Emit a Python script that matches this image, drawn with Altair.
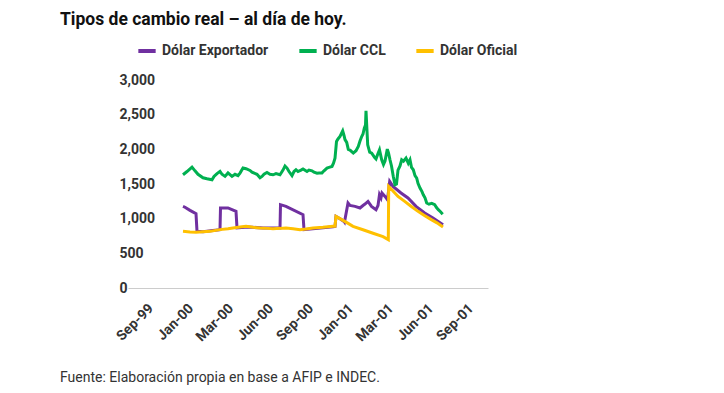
import altair as alt
import pandas as pd

title_text = "Tipos de cambio real – al día de hoy."
footer_text = "Fuente: Elaboración propia en base a AFIP e INDEC."
tick_labels = ["Sep-99", "Jan-00", "Mar-00", "Jun-00", "Sep-00", "Jan-01", "Mar-01", "Jun-01", "Sep-01"]
tick_values = [20, 60, 100, 140, 180, 220, 260, 300, 340]
series_names = ["Dólar Exportador", "Dólar CCL", "Dólar Oficial"]
series_colors = ["#7030A0", "#00B050", "#FFC000"]

# Dólar Exportador
exp_t = [55, 57, 62, 68, 69, 75, 85, 92, 92.5, 100, 108, 109, 120, 135, 152, 152.5, 158, 175, 176,
         190, 205, 207, 208, 212, 216, 216.5, 220, 222, 227, 232, 235, 237, 240, 243.5, 248, 250, 251.5,
         253, 254, 255.5, 257, 259.5, 261.7, 265, 273, 280, 288, 296.7, 305, 315]
exp_v = [1177, 1165, 1120, 1072, 817, 810, 830, 842, 1154, 1154, 1105, 866, 880, 866, 866, 1202, 1177, 1058, 842,
         860, 885, 889, 1033, 1000, 960, 950, 1226, 1190, 1177, 1154, 1190, 1210, 1249, 1177, 1130, 1190, 1345,
         1300, 1370, 1345, 1321, 1273, 1537, 1465, 1370, 1298, 1177, 1082, 1010, 914]

# Dólar CCL
ccl_t = [55, 59, 64, 67, 70, 75, 79, 84, 86, 89, 92, 94, 97, 100, 104, 107, 110, 112, 115, 118, 122, 124,
         129, 132, 134, 136, 139, 142, 145, 148, 152, 155, 157, 159, 161, 164, 166, 168, 170, 173, 175, 179,
         181, 184, 186, 189, 191, 194, 196, 199, 201, 204, 205.5, 207, 208.5, 210, 212, 214.7, 216, 217,
         218.7, 220.3, 222, 225.3, 228, 230.3, 232, 233.7, 235, 236.3, 237.5, 238, 239.7, 241.7, 243.7,
         246.7, 248, 250, 251.5, 253.7, 255.5, 257, 259.3, 260.5, 262, 263.5, 265.3, 267, 268.5, 270, 272,
         273.7, 275.5, 278, 280.3, 282, 283.5, 285.3, 287, 288.7, 290, 292, 294, 295.3, 297, 298.7, 301,
         303.7, 306.7, 308.5, 310.3, 312.5, 314.7]
ccl_v = [1633, 1680, 1744, 1690, 1640, 1590, 1575, 1561, 1610, 1650, 1681, 1640, 1610, 1660, 1610, 1640,
         1620, 1658, 1730, 1720, 1695, 1670, 1640, 1590, 1609, 1640, 1665, 1640, 1633, 1650, 1633, 1700,
         1760, 1730, 1680, 1620, 1680, 1706, 1680, 1700, 1716, 1680, 1700, 1690, 1670, 1655, 1660, 1660,
         1690, 1730, 1740, 1753, 1800, 1873, 2113, 2150, 2185, 2266, 2200, 2140, 2100, 2000, 1990, 1946,
         1980, 2041, 2120, 2185, 2220, 2305, 2350, 2554, 2065, 1960, 1946, 1880, 1860, 1940, 1993, 1850,
         1780, 1830, 2003, 1950, 1849, 1760, 1609, 1489, 1500, 1700, 1760, 1849, 1830, 1873, 1800, 1849,
         1740, 1706, 1620, 1586, 1510, 1442, 1390, 1345, 1300, 1226, 1210, 1220, 1201, 1160, 1130, 1100,
         1065]

# Dólar Oficial
of_t = [55, 62, 68, 75, 82, 92, 100, 105, 112, 118, 125, 132, 140, 145, 152, 158, 165, 172, 178, 185,
        195, 200, 205, 207, 208, 212, 218, 225, 235, 245, 255, 260.3, 260.7, 265, 270, 276.7, 283, 290,
        296, 303.3, 309, 315]
of_v = [817, 808, 803, 810, 817, 842, 855, 866, 880, 889, 875, 866, 860, 856, 860, 866, 855, 842, 850, 866,
        875, 885, 889, 889, 1033, 1000, 950, 890, 840, 790, 740, 698, 1465, 1400, 1320, 1249, 1180, 1105,
        1050, 986, 940, 880]

rows = []
for name, ts, vs in zip(series_names, [exp_t, ccl_t, of_t], [exp_v, ccl_v, of_v]):
    for t, v in zip(ts, vs):
        rows.append({"t": t, "v": v, "serie": name})
df = pd.DataFrame(rows)

label_array = "[" + ",".join("'" + s + "'" for s in tick_labels) + "]"
label_expr = label_array + "[round((datum.value - 20) / 40)]"

color = alt.Color(
    "serie:N",
    sort=series_names,
    scale=alt.Scale(domain=series_names, range=series_colors),
    legend=alt.Legend(
        orient="none", legendX=8, legendY=-40, direction="horizontal", title=None,
        symbolType="stroke", symbolStrokeWidth=4, symbolSize=300, columnPadding=22,
        labelFont="Roboto", labelFontWeight="bold", labelFontSize=14, labelColor="#333333",
        labelOffset=4, symbolOpacity=1,
    ),
)

lines = alt.Chart(df).mark_line(strokeWidth=3).encode(
    x=alt.X("t:Q", scale=alt.Scale(domain=[0, 360], nice=False), title=None,
            axis=alt.Axis(values=tick_values, labelExpr=label_expr, labelAngle=-45, labelAlign="right",
                          labelBaseline="top", labelPadding=13, labelOffset=-2, labelOverlap=False,
                          ticks=False, grid=False,
                          domainColor="#cccccc", domainWidth=1, labelFont="Roboto", labelFontWeight="bold",
                          labelFontSize=14, labelColor="#333333")),
    y=alt.Y("v:Q", scale=alt.Scale(domain=[0, 3000], nice=False), title=None,
            axis=alt.Axis(values=[0, 500, 1000, 1500, 2000, 2500, 3000], format=",.0f", labelAlign="left",
                          labelPadding=9, ticks=False, grid=False, domain=False, labelFont="Roboto",
                          labelFontWeight="bold", labelFontSize=14, labelColor="#333333")),
    color=color,
    order=alt.Order("t:Q"),
)

title = alt.Chart(pd.DataFrame({"txt": [title_text]})).mark_text(
    align="left", baseline="top", font="Roboto", fontWeight="bold", fontSize=17.5, color="#111111"
).encode(text="txt:N", x=alt.value(-68), y=alt.value(-69))

footer = alt.Chart(pd.DataFrame({"txt": [footer_text]})).mark_text(
    align="left", baseline="alphabetic", font="Roboto", fontSize=14, color="#333333"
).encode(text="txt:N", x=alt.value(-68), y=alt.value(302))

chart = alt.layer(lines, title, footer).properties(
    width=360, height=208,
    padding={"left": 120, "top": 72, "right": 220, "bottom": 97},
    autosize="none",
).configure_view(stroke=None)

chart.save("out.html", embed_options={"renderer": "svg", "actions": False})
